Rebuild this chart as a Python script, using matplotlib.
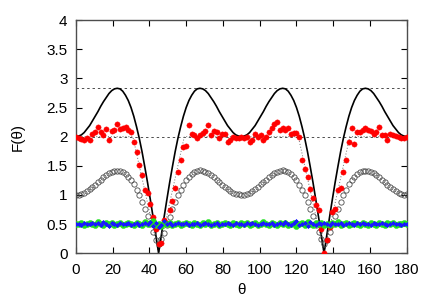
import numpy as np
import matplotlib
matplotlib.use("Agg")
import matplotlib.pyplot as plt

plt.rcParams['font.family'] = ['Liberation Sans', 'DejaVu Sans']
plt.rcParams['font.size'] = 11

# sampling grid, 1.5 deg steps from 0 to 180
theta = np.arange(121) * 1.5

# theory curve (solid black)
theory = [2.00, 2.01, 2.03, 2.07, 2.13, 2.19, 2.27, 2.35, 2.43, 2.52,
          2.60, 2.67, 2.74, 2.79, 2.82, 2.83, 2.82, 2.78, 2.71, 2.62,
          2.50, 2.35, 2.17, 1.97, 1.74, 1.48, 1.21, 0.92, 0.62, 0.31,
          0.00,
          0.31, 0.62, 0.92, 1.21, 1.48, 1.74, 1.97, 2.17, 2.35, 2.50,
          2.62, 2.71, 2.78, 2.82, 2.83, 2.82, 2.79, 2.74, 2.67, 2.60,
          2.52, 2.43, 2.35, 2.27, 2.19, 2.13, 2.07, 2.03, 2.01, 2.00,
          2.01, 2.03, 2.07, 2.13, 2.19, 2.27, 2.35, 2.43, 2.52, 2.60,
          2.67, 2.74, 2.79, 2.82, 2.83, 2.82, 2.78, 2.71, 2.62, 2.50,
          2.35, 2.17, 1.97, 1.74, 1.48, 1.21, 0.92, 0.62, 0.31, 0.00,
          0.31, 0.62, 0.92, 1.21, 1.48, 1.74, 1.97, 2.17, 2.35, 2.50,
          2.62, 2.71, 2.78, 2.82, 2.83, 2.82, 2.79, 2.74, 2.67, 2.60,
          2.52, 2.43, 2.35, 2.27, 2.19, 2.13, 2.07, 2.03, 2.01, 2.00]

# open circles
circles = [1.00, 1.00, 1.02, 1.04, 1.06, 1.10, 1.13, 1.17, 1.22, 1.26,
           1.30, 1.34, 1.37, 1.39, 1.41, 1.41, 1.41, 1.39, 1.36, 1.31,
           1.25, 1.18, 1.09, 0.99, 0.88, 0.76, 0.63, 0.50, 0.36, 0.23,
           0.15,
           0.24, 0.35, 0.49, 0.62, 0.75, 0.87, 0.99, 1.09, 1.17, 1.25,
           1.31, 1.36, 1.39, 1.41, 1.42, 1.41, 1.40, 1.37, 1.34, 1.30,
           1.26, 1.22, 1.17, 1.13, 1.10, 1.06, 1.04, 1.02, 1.01, 1.00,
           1.00, 1.02, 1.04, 1.07, 1.10, 1.13, 1.18, 1.22, 1.26, 1.30,
           1.34, 1.37, 1.39, 1.41, 1.42, 1.41, 1.39, 1.36, 1.31, 1.25,
           1.17, 1.09, 0.99, 0.87, 0.75, 0.63, 0.49, 0.36, 0.24, 0.15,
           0.23, 0.36, 0.50, 0.63, 0.76, 0.88, 0.99, 1.09, 1.18, 1.25,
           1.31, 1.36, 1.39, 1.41, 1.41, 1.41, 1.39, 1.37, 1.34, 1.30,
           1.26, 1.22, 1.17, 1.13, 1.10, 1.06, 1.04, 1.02, 1.00, 1.01]

# red filled dots
red = [1.99, 1.98, 1.96, 1.95, 1.97, 1.94, 2.05, 2.08, 2.17, 2.08,
       2.02, 2.13, 1.95, 2.10, 2.12, 2.22, 2.13, 2.15, 2.16, 2.12,
       2.08, 1.91, 1.74, 1.51, 1.34, 1.08, 1.04, 0.85, 0.62, 0.42,
       0.15,
       0.18, 0.57, 0.52, 0.74, 0.90, 1.12, 1.40, 1.60, 1.82, 1.84,
       2.20, 2.04, 2.02, 1.97, 2.03, 2.06, 2.10, 2.20, 2.02, 2.10,
       2.08, 1.97, 2.05, 2.05, 1.91, 1.95, 1.99, 1.97, 1.98, 2.00,
       1.97, 1.99, 1.91, 1.95, 2.05, 1.99, 2.02, 1.94, 2.00, 2.08,
       2.14, 2.22, 2.25, 2.11, 2.14, 2.12, 2.14, 2.05, 2.06, 2.06,
       1.99, 1.60, 1.45, 1.30, 1.10, 0.94, 0.82, 0.74, 0.42, 0.01,
       0.22, 0.45, 0.71, 0.76, 1.08, 1.11, 1.40, 1.60, 1.91, 2.14,
       1.88, 2.08, 2.08, 2.11, 2.14, 2.11, 2.10, 2.05, 2.08, 2.17,
       2.03, 2.02, 1.95, 2.05, 2.02, 2.01, 1.99, 1.97, 1.97, 1.99]

# dotted guide through the red dips
red_fit_theta = [0, 31, 45, 59, 121, 135, 149, 180]
red_fit = [2.0, 2.0, 0.0, 2.0, 2.0, 0.0, 2.0, 2.0]

# green filled dots
green = [0.50, 0.50, 0.51, 0.49, 0.50, 0.52, 0.50, 0.49, 0.53, 0.50,
         0.48, 0.51, 0.50, 0.52, 0.49, 0.50, 0.51, 0.48, 0.50, 0.52,
         0.50, 0.49, 0.51, 0.50, 0.48, 0.53, 0.50, 0.51, 0.55, 0.49,
         0.50, 0.47, 0.51, 0.50, 0.52, 0.49, 0.50, 0.51, 0.48, 0.50,
         0.52, 0.50, 0.49, 0.51, 0.50, 0.48, 0.51, 0.50, 0.53, 0.49,
         0.50, 0.51, 0.49, 0.50, 0.52, 0.50, 0.48, 0.51, 0.50, 0.49,
         0.51, 0.50, 0.52, 0.49, 0.50, 0.51, 0.48, 0.50, 0.53, 0.50,
         0.49, 0.51, 0.50, 0.48, 0.52, 0.50, 0.51, 0.49, 0.50, 0.52,
         0.47, 0.50, 0.51, 0.49, 0.54, 0.50, 0.48, 0.51, 0.50, 0.52,
         0.49, 0.50, 0.48, 0.51, 0.50, 0.53, 0.49, 0.50, 0.51, 0.48,
         0.50, 0.52, 0.50, 0.49, 0.51, 0.50, 0.48, 0.52, 0.50, 0.49,
         0.51, 0.50, 0.49, 0.52, 0.50, 0.51, 0.49, 0.50, 0.50, 0.51,
         0.50]

# blue asterisks
blue = [0.50, 0.50, 0.49, 0.51, 0.50, 0.50, 0.52, 0.50, 0.51, 0.49,
        0.53, 0.50, 0.46, 0.51, 0.50, 0.49, 0.52, 0.50, 0.50, 0.51,
        0.49, 0.50, 0.52, 0.48, 0.50, 0.51, 0.50, 0.53, 0.47, 0.52,
        0.45, 0.49, 0.56, 0.50, 0.51, 0.49, 0.50, 0.52, 0.50, 0.50,
        0.51, 0.49, 0.50, 0.50, 0.52, 0.49, 0.50, 0.51, 0.50, 0.49,
        0.50, 0.51, 0.49, 0.50, 0.50, 0.52, 0.50, 0.49, 0.51, 0.50,
        0.50, 0.49, 0.51, 0.50, 0.52, 0.50, 0.49, 0.50, 0.51, 0.50,
        0.50, 0.52, 0.49, 0.50, 0.51, 0.50, 0.53, 0.50, 0.49, 0.51,
        0.55, 0.49, 0.50, 0.52, 0.47, 0.53, 0.50, 0.49, 0.51, 0.50,
        0.52, 0.50, 0.49, 0.51, 0.50, 0.50, 0.52, 0.49, 0.50, 0.51,
        0.50, 0.49, 0.51, 0.50, 0.52, 0.50, 0.50, 0.49, 0.51, 0.50,
        0.50, 0.51, 0.50, 0.49, 0.50, 0.51, 0.50, 0.50, 0.49, 0.50,
        0.50]

ref_levels = [2.0, 2.83]

xticks = [0, 20, 40, 60, 80, 100, 120, 140, 160, 180]
yticks = [0, 0.5, 1, 1.5, 2, 2.5, 3, 3.5, 4]
ytick_labels = ["0", "0.5", "1", "1.5", "2", "2.5", "3", "3.5", "4"]

fig = plt.figure(figsize=(4.36, 3.05), dpi=100)
ax = fig.add_axes([0.174, 0.170, 0.759, 0.764])

for lev in ref_levels:
	ax.axhline(lev, color="0.3", lw=0.7, ls=(0, (2.5, 3)), zorder=1)
ax.plot(red_fit_theta, red_fit, color="0.45", lw=0.7, ls=(0, (1, 2)), zorder=1)

ax.plot(theta, theory, color="black", lw=1.2, zorder=2)
ax.plot(theta, circles, ls="none", marker="o", ms=3.8, mfc="none",
        mec="0.3", mew=0.6, zorder=3)
ax.plot(theta, red, ls="none", marker="o", ms=3.8, mfc="red", mec="red",
        mew=0.3, zorder=4)
ax.plot(theta, green, ls="none", marker="o", ms=4.4, mfc="#22e022",
        mec="#22e022", mew=0.3, zorder=5)
ax.plot(theta, blue, ls="none", marker=(8, 2, 0), ms=3.0, color="#1a1aff",
        mew=0.5, zorder=6)

ax.set_xlim(0, 180)
ax.set_ylim(0, 4)
ax.set_xticks(xticks)
ax.set_yticks(yticks)
ax.set_yticklabels(ytick_labels)
ax.tick_params(direction="in", top=True, right=True, length=4, width=0.8,
               labelsize=11, colors="black")
ax.tick_params(axis="x", pad=7)
ax.tick_params(axis="y", pad=6)
for sp in ax.spines.values():
	sp.set_color("0.3")
	sp.set_linewidth(1.0)

ax.set_xlabel("θ", fontsize=11)
ax.set_ylabel("F(θ)", fontsize=11)
ax.xaxis.set_label_coords(0.5, -0.159)
ax.xaxis.label.set_va("center")
ax.yaxis.set_label_coords(-0.175, 0.5)
ax.yaxis.label.set_va("center")

plt.savefig("out.png", dpi=100)
